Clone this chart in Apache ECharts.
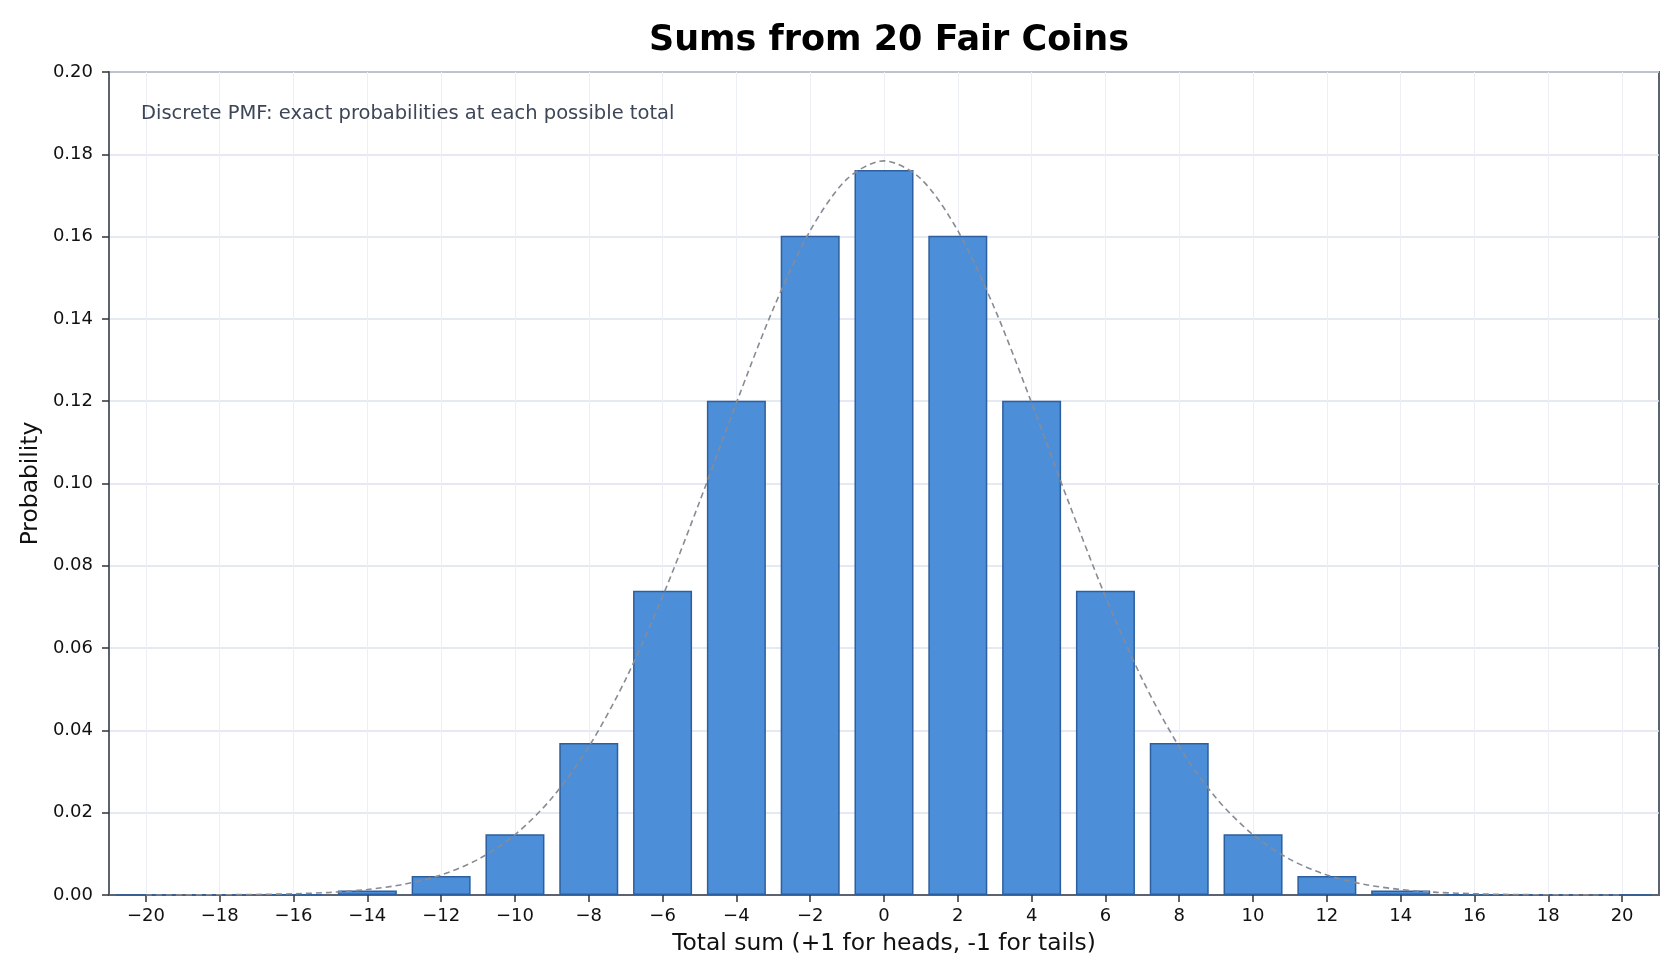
<!DOCTYPE html>
<html lang="en">
<head>
    <meta charset="UTF-8">
    <title>Sums from 20 Fair Coins</title>
    <style>
        html, body { margin: 0; padding: 0; background: #fff; }
        #main { width: 1680px; height: 980px; }
    </style>
</head>
<body>
    <div id="main"></div>
    <script src="https://cdn.jsdelivr.net/npm/echarts@6/dist/echarts.min.js"></script>
    <script>
        // possible totals of 20 coins (+1 / -1)
        var sums = [-20, -18, -16, -14, -12, -10, -8, -6, -4, -2, 0, 2, 4, 6, 8, 10, 12, 14, 16, 18, 20];
        // exact probabilities
        var probs = [0.00000095, 0.000019, 0.000181, 0.001087, 0.004621, 0.014786, 0.036964, 0.073929, 0.120134, 0.160179, 0.176197,
                     0.160179, 0.120134, 0.073929, 0.036964, 0.014786, 0.004621, 0.001087, 0.000181, 0.000019, 0.00000095];

        // dashed normal curve, sampled at each integer
        var curveX = [-20, -19, -18, -17, -16, -15, -14, -13, -12, -11, -10, -9, -8, -7, -6, -5, -4, -3, -2, -1, 0,
                      1, 2, 3, 4, 5, 6, 7, 8, 9, 10, 11, 12, 13, 14, 15, 16, 17, 18, 19, 20];
        var curveY = [0.0000081, 0.000021, 0.000054, 0.00013, 0.00030, 0.00064, 0.00133, 0.00261, 0.00487, 0.00866, 0.01464,
                      0.02355, 0.03602, 0.05241, 0.07254, 0.09550, 0.11959, 0.14246, 0.16143, 0.17401, 0.17841,
                      0.17401, 0.16143, 0.14246, 0.11959, 0.09550, 0.07254, 0.05241, 0.03602, 0.02355, 0.01464,
                      0.00866, 0.00487, 0.00261, 0.00133, 0.00064, 0.00030, 0.00013, 0.000054, 0.000021, 0.0000081];

        var xTicks = [-20, -18, -16, -14, -12, -10, -8, -6, -4, -2, 0, 2, 4, 6, 8, 10, 12, 14, 16, 18, 20];

        var font = 'DejaVu Sans';
        var myChart = echarts.init(document.getElementById('main'));

        var option = {
            animation: false,
            textStyle: { fontFamily: font },
            title: {
                text: 'Sums from 20 Fair Coins',
                left: 884,
                textAlign: 'center',
                top: 18,
                textStyle: { fontFamily: font, fontSize: 35, fontWeight: 'bold', color: '#000' }
            },
            graphic: [{
                type: 'text',
                left: 141,
                top: 104,
                z: 100,
                style: {
                    text: 'Discrete PMF: exact probabilities at each possible total',
                    fontFamily: font,
                    fontSize: 19.5,
                    fill: '#3d4657'
                }
            }],
            grid: {
                left: 109, right: 21, top: 72, bottom: 85,
                show: true,
                borderColor: '#5b6372',
                borderWidth: 2,
                backgroundColor: 'transparent'
            },
            xAxis: {
                type: 'value',
                min: -21,
                max: 21,
                name: 'Total sum (+1 for heads, -1 for tails)',
                nameLocation: 'middle',
                nameGap: 37,
                nameTextStyle: { fontFamily: font, fontSize: 23.4, color: '#111' },
                axisLine: { show: true, onZero: false, lineStyle: { color: '#5b6372', width: 2 } },
                axisTick: { show: true, customValues: xTicks, length: 7, lineStyle: { color: '#333', width: 1.5 } },
                axisLabel: {
                    customValues: xTicks,
                    margin: 12,
                    fontSize: 18,
                    color: '#111',
                    formatter: function (v) { return String(v).replace('-', '\u2212'); }
                },
                splitLine: { show: false }
            },
            yAxis: {
                type: 'value',
                min: 0,
                max: 0.2,
                interval: 0.02,
                name: 'Probability',
                nameLocation: 'middle',
                nameGap: 59,
                nameTextStyle: { fontFamily: font, fontSize: 23.4, color: '#111' },
                axisLine: { show: true, onZero: false, lineStyle: { color: '#5b6372', width: 2 } },
                axisTick: { show: true, length: 7, lineStyle: { color: '#333', width: 1.5 } },
                axisLabel: {
                    margin: 16,
                    fontSize: 18,
                    color: '#111',
                    formatter: function (v) { return v.toFixed(2); }
                },
                splitLine: { show: true, lineStyle: { color: '#dde3ee', width: 1.5 } }
            },
            series: [
                {
                    // light vertical grid at each labelled total
                    type: 'line',
                    data: [],
                    silent: true,
                    z: 0,
                    markLine: {
                        silent: true,
                        z: 0,
                        symbol: 'none',
                        label: { show: false },
                        lineStyle: { color: '#eceff5', width: 1, type: 'solid' },
                        data: xTicks.map(function (t) { return { xAxis: t }; })
                    }
                },
                {
                    type: 'bar',
                    data: sums.map(function (s, i) { return [s, probs[i]]; }),
                    barWidth: 59,
                    itemStyle: { color: '#4d8ed9', borderColor: '#2d5f9e', borderWidth: 1.5 },
                    z: 2
                },
                {
                    type: 'line',
                    data: curveX.map(function (x, i) { return [x, curveY[i]]; }),
                    smooth: 0.3,
                    showSymbol: false,
                    symbol: 'none',
                    lineStyle: { color: '#888b94', width: 1.6, type: [6, 4] },
                    z: 3
                }
            ]
        };
        myChart.setOption(option);
    </script>
</body>
</html>
